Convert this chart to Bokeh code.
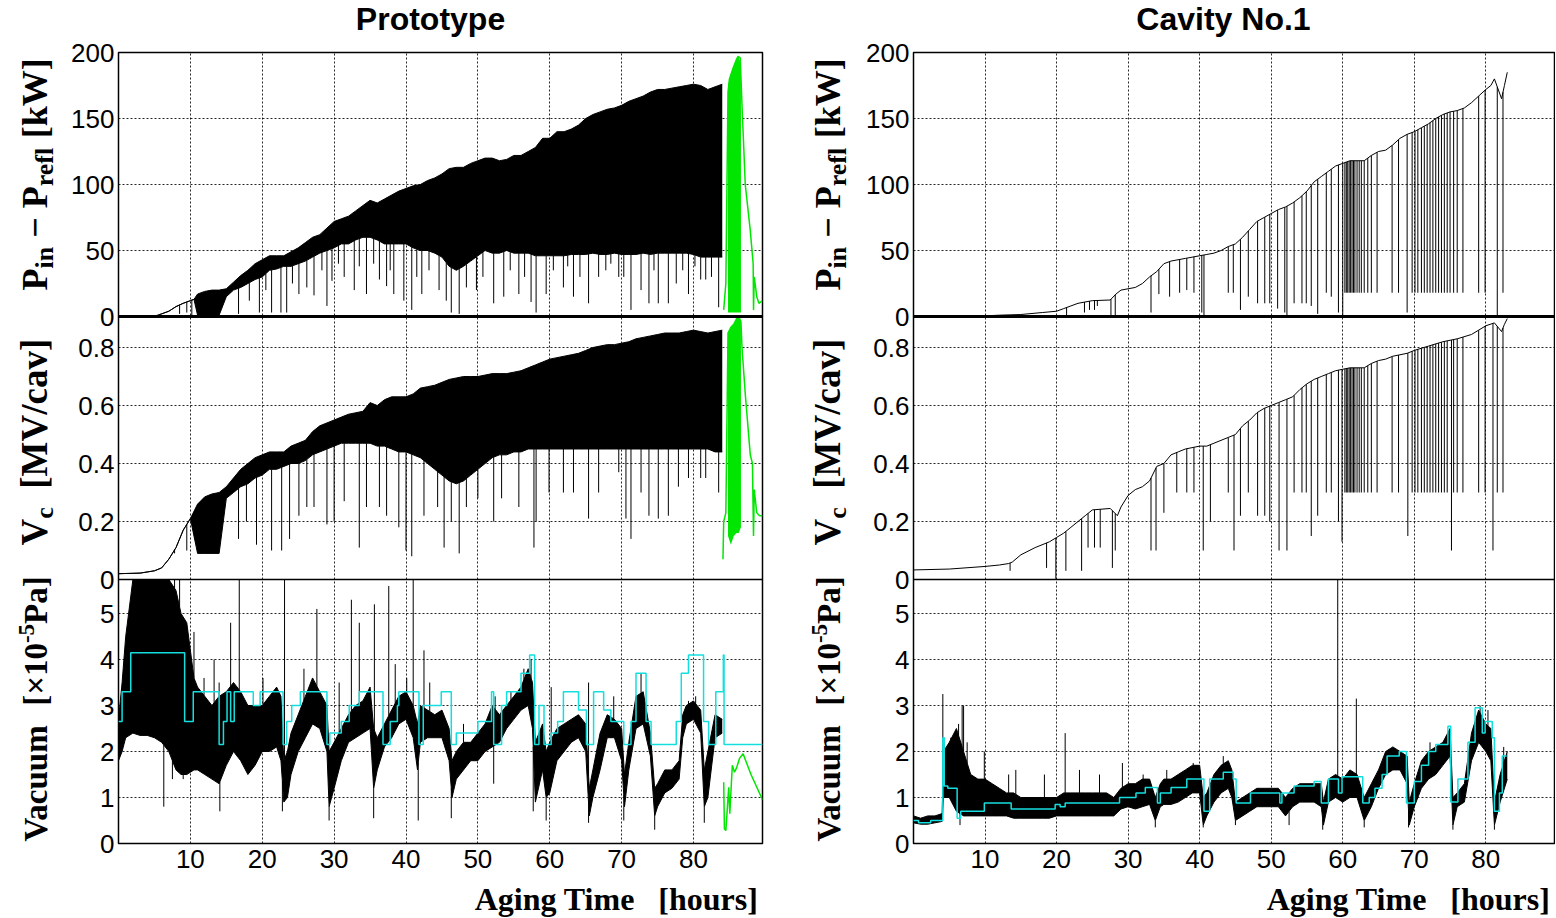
import math
import numpy as np
from bokeh.plotting import figure
from bokeh.models import Range1d, FixedTicker, Grid, Span, Label
from bokeh.layouts import row, column
from bokeh.embed import file_html
from bokeh.resources import INLINE

# ------------------------------------------------------------------ data
X_TICKS = [10, 20, 30, 40, 50, 60, 70, 80]
P_TICKS = [0, 50, 100, 150, 200]
P_TICK_LABELS = ["0", "50", "100", "150", "200"]
V_TICKS = [0, 0.2, 0.4, 0.6, 0.8]
V_TICK_LABELS = ["0", "0.2", "0.4", "0.6", "0.8"]
VAC_TICKS = [0, 1, 2, 3, 4, 5]
VAC_TICK_LABELS = ["0", "1", "2", "3", "4", "5"]

# ---- Prototype: Pin - Prefl [kW]  (dense band hi / lo, plus dips)
proto_p_t = [0, 5, 5.5, 7, 8, 9, 10, 10.5,
             11, 12, 13, 14, 15, 16, 17, 18, 19, 20, 21, 22, 23, 24, 25, 26, 27, 28, 29, 30,
             31, 32, 33, 34, 35, 36, 37, 38, 39, 40, 41, 42, 43, 44, 45, 46, 47, 48, 49, 50,
             51, 52, 53, 54, 55, 56, 57, 58, 59, 60, 61, 62, 63, 64, 65, 66, 67, 68, 69, 70,
             71, 72, 73, 74, 75, 76, 77, 78, 79, 80, 81, 82, 83, 84]
proto_p_hi = [0, 0.3, 1, 4, 7.5, 10, 12, 13,
              17, 19, 20, 20, 21, 26, 31, 35, 40, 43,
              46, 46, 46, 49, 52, 56, 60, 62, 67, 72,
              74, 76, 80, 84, 88, 86, 89, 92, 95, 97,
              99, 100, 103, 105, 108, 112, 113, 113, 116, 118,
              120, 120, 118, 119, 122, 122, 125, 128, 135, 135,
              140, 140, 142, 145, 150, 153, 155, 157, 158, 160,
              163, 165, 167, 170, 172, 172, 173, 174, 175, 176,
              175, 172, 174, 176]
proto_p_lo = [0, 0.3, 1, 4, 7.5, 10, 12, 13,
              1, 1, 1, 1, 15, 20, 22, 25, 28, 30,
              35, 36, 38, 38, 40, 42, 45, 48, 50, 52,
              55, 55, 58, 60, 60, 58, 55, 55, 55, 55,
              52, 50, 50, 48, 45, 38, 35, 38, 42, 46,
              50, 48, 48, 50, 48, 48, 48, 46, 46, 46,
              46, 46, 47, 47, 47, 48, 47, 47, 48, 47,
              47, 47, 48, 47, 48, 48, 48, 48, 48, 47,
              45, 45, 45, 45]
proto_p_dip_t = [8.5, 9.5, 10.2, 16.7, 18.2, 19.6, 20.5, 21.3, 22.6, 23.4, 24.2, 25.1, 26.2,
                 27.2, 28.3, 29.0, 29.7, 30.6, 31.4, 32.8, 33.5, 34.5, 35.5,
                 36.3, 37.3, 37.8, 38.3, 39.7, 40.8, 41.5, 42.2, 43.2, 44.6,
                 45.6, 46.3, 47.4, 48.4, 49.8, 50.7, 52.2, 53.6, 54.5, 55.7,
                 56.5, 57.4, 58.1, 59.5, 60.5, 61.9, 62.5, 63.3, 64.2, 65.4,
                 66.8, 67.8, 68.5, 69.6, 70.3, 71.3, 72.7, 73.8, 74.5, 75.1,
                 76.5, 77.6, 78.5, 79.3, 80.2, 81.0, 81.7, 82.5, 83.5]
proto_p_dip_v = [2, 3, 1, 2, 12, 3, 20, 3, 3, 3, 25, 17, 22,
                 16, 35, 8, 27, 40, 30, 20, 38, 17, 40,
                 28, 23, 35, 17, 12, 5, 30, 17, 35, 20,
                 12, 3, 2, 22, 20, 30, 10, 15, 35, 17,
                 30, 11, 3, 17, 35, 22, 38, 15, 30, 10,
                 30, 35, 40, 30, 30, 5, 20, 10, 35, 10,
                 10, 25, 35, 17, 38, 28, 28, 30, 7]

# ---- Prototype: Vc [MV/cav]
proto_v_t = [0, 3, 5, 6, 7, 8, 9, 10,
             11, 12, 13, 14, 15, 16, 17, 18, 19, 20, 21, 22, 23, 24, 25, 26, 27, 28, 29, 30,
             31, 32, 33, 34, 35, 36, 37, 38, 39, 40, 41, 42, 43, 44, 45, 46, 47, 48, 49, 50,
             51, 52, 53, 54, 55, 56, 57, 58, 59, 60, 61, 62, 63, 64, 65, 66, 67, 68, 69, 70,
             71, 72, 73, 74, 75, 76, 77, 78, 79, 80, 81, 82, 83, 84]
proto_v_hi = [0.02, 0.022, 0.03, 0.04, 0.07, 0.11, 0.17, 0.21,
              0.26, 0.285, 0.295, 0.30, 0.32, 0.35, 0.38, 0.40, 0.42, 0.43,
              0.44, 0.44, 0.44, 0.46, 0.47, 0.48, 0.51, 0.53, 0.54, 0.55,
              0.56, 0.57, 0.575, 0.58, 0.61, 0.60, 0.62, 0.63, 0.63, 0.63,
              0.64, 0.66, 0.665, 0.67, 0.68, 0.69, 0.695, 0.70, 0.70, 0.70,
              0.705, 0.71, 0.71, 0.71, 0.715, 0.72, 0.73, 0.74, 0.75, 0.76,
              0.765, 0.77, 0.775, 0.78, 0.79, 0.80, 0.805, 0.81, 0.81, 0.815,
              0.82, 0.83, 0.835, 0.84, 0.845, 0.85, 0.85, 0.85, 0.855, 0.86,
              0.855, 0.85, 0.855, 0.86]
proto_v_lo = [0.02, 0.022, 0.03, 0.04, 0.07, 0.11, 0.17, 0.21,
              0.09, 0.09, 0.09, 0.09, 0.28, 0.30, 0.32, 0.33, 0.35, 0.36,
              0.38, 0.38, 0.39, 0.40, 0.40, 0.41, 0.43, 0.44, 0.45, 0.46,
              0.47, 0.47, 0.47, 0.47, 0.47, 0.46, 0.46, 0.45, 0.44, 0.44,
              0.43, 0.42, 0.40, 0.38, 0.36, 0.34, 0.33, 0.34, 0.36, 0.38,
              0.40, 0.42, 0.43, 0.43, 0.44, 0.44, 0.45, 0.45, 0.45, 0.45,
              0.45, 0.45, 0.45, 0.45, 0.45, 0.45, 0.45, 0.45, 0.45, 0.45,
              0.45, 0.45, 0.45, 0.45, 0.45, 0.45, 0.45, 0.45, 0.45, 0.45,
              0.45, 0.45, 0.44, 0.44]
proto_v_dip_t = [7.8, 9.5, 16.7, 17.8, 19.2, 21.3, 22.7, 23.8, 25.1, 26.2,
                 27.2, 29.0, 30.0, 31.4, 33.5, 34.5, 36.3, 37.3, 39.0, 40.0,
                 40.8, 42.5, 44.4, 45.3, 46.3, 47.4, 48.4, 50.0, 52.2, 53.3,
                 55.7, 57.8, 58.1, 59.9, 61.9, 63.3, 65.4, 66.8, 69.6, 70.6,
                 71.3, 72.7, 73.8, 75.1, 76.5, 77.9, 79.3, 81.0, 81.7, 83.5]
proto_v_dip_v = [0.09, 0.10, 0.14, 0.20, 0.12, 0.10, 0.10, 0.14, 0.22, 0.25,
                 0.25, 0.19, 0.20, 0.27, 0.11, 0.25, 0.25, 0.22, 0.18, 0.10,
                 0.08, 0.22, 0.25, 0.11, 0.20, 0.09, 0.25, 0.28, 0.20, 0.28,
                 0.25, 0.11, 0.20, 0.30, 0.30, 0.30, 0.21, 0.30, 0.37, 0.21,
                 0.14, 0.30, 0.22, 0.21, 0.22, 0.32, 0.35, 0.35, 0.35, 0.30]

# ---- Prototype: vacuum band, spikes and cyan step
proto_vac_t = [0, 0.5, 1, 2, 3, 4, 5, 6, 7, 8,
               8.7, 9.5, 10.5, 11, 12, 13, 14, 15, 16, 17,
               18, 19, 20, 21, 22, 22.6, 23, 23.5, 24, 25,
               26, 27, 28, 29, 29.3, 30, 31, 32, 33, 34,
               35, 35.5, 36, 37, 38, 39, 40, 41, 41.6, 42,
               43, 44, 45, 46, 46.4, 47, 48, 49, 50, 51,
               52, 53, 54, 55, 56, 57, 57.6, 58, 59, 59.5,
               60, 61, 62, 63, 64, 65, 65.5, 66, 67, 68,
               69, 70, 70.4, 71, 72, 73, 74, 74.6, 75, 76,
               77, 78, 78.5, 79, 80, 81, 81.5, 82, 83, 84]
proto_vac_lo = [1.8, 2.0, 2.3, 2.4, 2.35, 2.35, 2.3, 2.2, 2.0, 1.6,
                1.5, 1.5, 1.6, 1.6, 1.5, 1.4, 1.3, 1.7, 2.0, 1.8,
                1.5, 1.7, 2.0, 2.0, 2.1, 1.8, 0.9, 1.0, 1.5, 2.0,
                2.3, 2.6, 2.5, 2.0, 0.8, 1.2, 1.8, 2.2, 2.3, 2.4,
                2.5, 1.2, 1.6, 2.1, 2.3, 2.6, 2.7, 2.3, 1.6, 2.2,
                2.3, 2.3, 2.3, 1.8, 1.0, 1.4, 1.6, 1.8, 1.8, 2.0,
                2.1, 2.2, 2.5, 2.7, 2.9, 3.0, 2.5, 0.9, 1.6, 1.0,
                1.1, 1.8, 2.0, 2.2, 2.3, 2.0, 0.6, 1.0, 1.6, 2.3,
                2.3, 1.8, 0.8, 1.6, 2.5, 2.6, 1.9, 0.6, 0.8, 1.1,
                1.2, 1.4, 2.3, 2.6, 2.7, 2.4, 0.8, 1.0, 2.3, 2.4]
proto_vac_hi = [2.7, 3.5, 4.5, 5.74, 5.74, 5.74, 5.74, 5.74, 5.74, 5.5,
                5.0, 4.8, 3.6, 3.4, 3.2, 3.0, 3.2, 3.3, 3.5, 3.3,
                3.0, 3.0, 3.0, 3.2, 3.4, 3.2, 1.8, 2.0, 2.4, 2.8,
                3.2, 3.6, 3.3, 3.0, 2.0, 2.2, 2.5, 2.8, 3.0, 3.1,
                3.4, 2.5, 2.3, 2.6, 2.9, 3.2, 3.3, 3.0, 2.6, 3.0,
                2.9, 2.8, 2.9, 2.5, 1.8, 2.0, 2.2, 2.2, 2.4, 2.6,
                3.0, 2.8, 3.0, 3.2, 3.4, 3.8, 3.5, 2.2, 2.6, 2.0,
                2.2, 2.5, 2.6, 2.7, 2.8, 2.6, 1.2, 1.6, 2.4, 2.8,
                2.7, 2.5, 1.5, 2.2, 3.2, 3.3, 2.4, 1.2, 1.3, 1.6,
                1.6, 1.8, 2.8, 3.0, 3.1, 2.9, 1.6, 2.0, 2.8, 2.7]
proto_vac_up_t = [7.8, 8.5, 10.5, 11.9, 13.3, 14.0, 15.6, 16.8, 20.1, 23.1,
                  25.8, 27.6, 30.7, 32.4, 33.5, 35.6, 37.6, 38.5, 40.1, 41.0,
                  42.5, 43.3, 48.0, 52.4, 54.6, 56.4, 57.4, 60.2, 65.4, 68.9,
                  72.7, 79.3, 80.3]
proto_vac_up_v = [5.74, 5.74, 4.6, 3.6, 4.0, 3.5, 4.8, 5.74, 3.6, 5.74,
                  3.8, 5.1, 3.5, 5.3, 4.8, 5.2, 5.6, 3.9, 3.6, 5.74,
                  4.2, 3.5, 2.6, 3.2, 3.3, 3.8, 4.0, 3.4, 3.5, 3.2,
                  3.7, 3.1, 3.2]
proto_vac_dn_t = [6.3, 7.5, 9.0, 14.1, 22.8, 29.3, 35.5, 41.7, 46.3, 52.2,
                  57.7, 59.5, 65.4, 70.3, 74.6, 81.5]
proto_vac_dn_v = [0.8, 1.4, 1.4, 0.7, 0.7, 0.5, 0.55, 0.5, 0.55, 1.3,
                  0.7, 0.5, 0.45, 0.5, 0.3, 0.45]
proto_cyan_t = [0, 0.5, 1.7, 9.2, 10.4, 14.0, 14.6, 15.1, 15.6, 16.1,
                18.75, 19.7, 22.9, 23.4, 24.1, 25.3, 29.0, 29.4, 31.0, 32.1,
                33.5, 36.8, 37.8, 38.8, 39.0, 41.8, 42.4, 44.9, 46.3, 47.0,
                50.0, 51.9, 52.2, 53.3, 54.0, 56.0, 57.2, 57.9, 58.5, 59.2,
                60.2, 61.1, 61.9, 64.0, 65.1, 66.1, 67.5, 68.5, 70.3, 71.3,
                72.0, 73.4, 74.1, 77.6, 78.3, 79.3, 81.4, 82.1, 83.1, 84.15,
                84.25, 89.6]
proto_cyan_v = [2.65, 3.3, 4.15, 2.65, 3.3, 2.15, 2.65, 3.3, 2.65, 3.3,
                3.0, 3.3, 2.15, 2.65, 3.0, 3.3, 2.15, 2.4, 2.65, 3.0,
                3.3, 2.15, 2.65, 3.0, 3.3, 2.15, 3.0, 3.3, 2.15, 2.4,
                2.65, 3.3, 2.15, 3.0, 3.3, 3.7, 4.1, 2.15, 3.0, 2.15,
                2.4, 2.65, 3.3, 2.9, 2.15, 3.3, 2.9, 2.65, 2.15, 2.65,
                3.7, 2.65, 2.15, 2.65, 3.7, 4.1, 2.65, 2.15, 3.3, 4.1,
                2.15, 2.15]

# ---- Prototype: green (last run)
green_p_t = [84.2, 84.5, 84.8, 85.0, 85.5, 86.0, 86.2, 86.5, 86.75, 87.2,
             87.9, 88.3, 88.35, 88.45, 88.8, 89.1, 89.6]
green_p_v = [5, 25, 170, 180, 188, 195, 197, 196, 160, 100,
             65, 40, 5, 30, 15, 10, 12]
green_band_t = [84.8, 85.2, 85.6, 86.0, 86.3, 86.6]
green_p_band_lo = [3, 3, 3, 3, 3, 3]
green_p_band_hi = [175, 183, 190, 195, 197, 190]
green_v_t = [84.1, 84.2, 84.5, 84.8, 85.2, 85.6, 86.0, 86.3, 86.6, 86.75,
             87.2, 87.9, 88.2, 88.35, 88.45, 88.8, 89.2, 89.6]
green_v_v = [0.07, 0.2, 0.23, 0.85, 0.87, 0.88, 0.9, 0.905, 0.89, 0.8,
             0.64, 0.43, 0.40, 0.15, 0.31, 0.23, 0.22, 0.22]
green_v_band_lo = [0.15, 0.12, 0.15, 0.16, 0.16, 0.18]
green_v_band_hi = [0.85, 0.87, 0.88, 0.9, 0.905, 0.89]
green_vac_t = [84.2, 84.3, 84.5, 84.9, 85.05, 85.4, 85.7, 86.0, 86.4, 86.9, 88.0, 89.6]
green_vac_v = [1.33, 0.32, 0.28, 1.22, 0.65, 1.7, 1.55, 1.65, 1.85, 1.95, 1.5, 0.95]

# ---- Cavity No.1: Pin - Prefl
cav_p_env_t = [0, 5, 10, 12, 15, 18, 20, 21, 22, 23,
               25, 27.5, 28.3, 29, 30, 31, 32, 33, 34, 35,
               36, 38, 40, 41, 42, 43, 44, 45, 46, 47,
               48, 49, 50, 51, 52, 53, 54, 55, 56, 57,
               58, 59, 60, 61, 62, 63, 64, 65, 66, 67,
               68, 69, 70, 71, 72, 73, 74, 75, 76, 77,
               78, 79, 80, 80.7, 81.2, 82.2, 82.6, 83.0]
cav_p_env_v = [0.3, 0.3, 0.5, 1, 1.5, 3, 4, 6, 8, 10,
               12, 12.5, 17, 20, 21, 22, 25, 30, 34, 40,
               42, 44, 46, 47, 48, 50, 53, 55, 60, 66,
               72, 75, 78, 81, 83, 86, 90, 95, 102, 106,
               110, 114, 116, 118, 118, 118, 122, 125, 126, 130,
               135, 138, 140, 143, 146, 150, 153, 155, 156, 158,
               162, 167, 172, 175, 180, 165, 175, 185]
cav_p_dip_t = [21.4, 23.9, 24.6, 25.3, 25.7, 27.6, 28.2,
               33.2, 34.3, 35.8, 37.2, 38.2, 39.2, 40.3, 40.6,
               44.0, 44.7, 45.7, 46.8, 48.1, 49.1, 49.8, 50.9, 51.9, 52.2,
               53.2, 54.3, 54.9, 55.6, 56.5, 57.7, 58.4, 59.4, 60.0,
               60.3, 60.5, 60.7, 60.9, 61.1, 61.3, 61.5, 61.7, 62.0, 62.3, 62.6, 63.0, 63.5, 64.0,
               64.8, 66.9, 67.8, 69.0,
               69.7, 70.1, 70.5, 71.0, 71.4, 71.8, 72.2, 72.6, 73.0, 73.4, 73.8, 74.2, 74.6,
               75.0, 75.5, 76.0,
               76.8, 79.0, 79.9, 81.6, 82.4]
cav_p_dip_v = [0, 3, 5, 5, 8, 1, 0,
               3, 17, 15, 18, 20, 18, 3, 1,
               18, 18, 5, 15, 10, 10, 10, 6, 3, 1,
               10, 10, 10, 8, 2, 18, 15, 3, 0,
               18, 18, 18, 18, 18, 18, 18, 18, 18, 18, 18, 18, 18, 18,
               18, 18, 18, 3,
               18, 18, 18, 18, 18, 18, 18, 18, 18, 18, 18, 18, 18,
               18, 18, 18,
               18, 18, 18, 0, 18]

# ---- Cavity No.1: Vc
cav_v_env_t = [0, 5, 10, 12, 13.3, 13.8, 15, 17, 19, 20,
               21, 22, 23, 24, 25, 27.5, 28.5, 29, 30, 31,
               32, 33, 34, 35, 36, 37, 38, 40, 41, 42,
               44, 45, 46, 47, 48, 49, 50, 51, 52, 53,
               54, 55, 56, 57, 58, 59, 60, 61, 63, 64,
               65, 66, 67, 68, 69, 70, 72, 74, 76, 78,
               79, 80, 81.2, 82.2, 82.6, 83.0]
cav_v_env_v = [0.033, 0.036, 0.045, 0.05, 0.055, 0.06, 0.085, 0.11, 0.13, 0.145,
               0.16, 0.18, 0.20, 0.22, 0.24, 0.245, 0.22, 0.25, 0.29, 0.31,
               0.32, 0.34, 0.39, 0.40, 0.43, 0.44, 0.45, 0.46, 0.46, 0.47,
               0.49, 0.50, 0.53, 0.55, 0.575, 0.59, 0.60, 0.61, 0.62, 0.63,
               0.655, 0.675, 0.69, 0.70, 0.71, 0.72, 0.725, 0.73, 0.73, 0.745,
               0.755, 0.76, 0.77, 0.775, 0.78, 0.79, 0.805, 0.82, 0.83, 0.845,
               0.86, 0.875, 0.885, 0.855, 0.88, 0.90]
cav_v_dip_t = [13.5, 18.6, 19.9, 21.3, 23.5, 24.4, 25.3, 26.1, 27.8, 28.2,
               33.2, 33.9, 35.0, 36.8, 38.2, 39.2, 40.5, 41.5, 44.0, 44.8,
               45.7, 46.8, 48.1, 49.1, 49.8, 51.1, 52.2, 53.2, 54.3, 54.9,
               55.6, 56.5, 57.7, 58.4, 59.4, 59.9,
               60.3, 60.5, 60.7, 60.9, 61.1, 61.3, 61.5, 61.7, 62.0, 62.3, 62.6, 63.0, 63.5, 64.0,
               64.8, 66.9, 67.8, 69.1,
               69.7, 70.1, 70.5, 71.0, 71.4, 71.8, 72.2, 72.6, 73.0, 73.4, 73.8, 74.2, 74.6,
               75.2, 75.5, 76.0, 76.8, 79.0, 79.9, 81.0, 81.6, 82.4]
cav_v_dip_v = [0.03, 0.04, 0.0, 0.03, 0.03, 0.11, 0.11, 0.11, 0.04, 0.10,
               0.10, 0.10, 0.23, 0.30, 0.30, 0.30, 0.10, 0.20, 0.30, 0.10,
               0.22, 0.30, 0.22, 0.22, 0.20, 0.10, 0.10, 0.30, 0.30, 0.30,
               0.15, 0.22, 0.30, 0.30, 0.20, 0.13,
               0.30, 0.30, 0.30, 0.30, 0.30, 0.30, 0.30, 0.30, 0.30, 0.30, 0.30, 0.30, 0.30, 0.30,
               0.30, 0.30, 0.30, 0.15,
               0.30, 0.30, 0.30, 0.30, 0.30, 0.30, 0.30, 0.30, 0.30, 0.30, 0.30, 0.30, 0.30,
               0.10, 0.30, 0.30, 0.30, 0.30, 0.30, 0.10, 0.30, 0.30]

# ---- Cavity No.1: vacuum
cav_vac_t = [0, 1, 2, 3, 4, 4.2, 5, 6, 7, 8,
             9, 10, 11, 12, 13, 14, 15, 16, 17, 18,
             19, 20, 21, 22, 23, 24, 25, 26, 27, 28,
             29, 30, 31, 32, 33, 33.8, 34.5, 35, 36, 37,
             38, 39, 40, 40.5, 41, 42, 43, 44, 44.5, 45,
             46, 47, 48, 49, 50, 51, 52, 53, 54, 55,
             56, 57, 57.3, 58, 59, 60, 61, 62, 63, 64,
             65, 66, 67, 68, 69, 69.3, 70, 71, 72, 73,
             74, 75, 75.4, 76, 77, 78, 79, 80, 80.7, 81.2,
             82, 83]
cav_vac_lo = [0.45, 0.42, 0.42, 0.45, 0.48, 1.0, 1.0, 0.7, 0.6, 0.6,
              0.6, 0.6, 0.6, 0.6, 0.6, 0.55, 0.55, 0.55, 0.55, 0.55,
              0.55, 0.6, 0.6, 0.6, 0.6, 0.6, 0.6, 0.6, 0.6, 0.6,
              0.75, 0.8, 0.75, 0.8, 0.85, 0.5, 0.8, 0.85, 0.85, 0.9,
              1.0, 1.1, 1.1, 0.4, 0.6, 0.9, 1.1, 1.2, 1.0, 0.5,
              0.6, 0.7, 0.8, 0.8, 0.8, 0.8, 0.6, 0.8, 0.9, 0.9,
              0.9, 0.8, 0.4, 0.9, 1.0, 0.9, 1.0, 1.0, 0.5, 0.8,
              1.2, 1.5, 1.6, 1.6, 1.3, 0.4, 0.8, 1.2, 1.4, 1.5,
              1.7, 1.9, 0.4, 0.8, 0.9, 1.8, 2.2, 2.0, 1.8, 0.4,
              0.9, 1.4]
cav_vac_hi = [0.6, 0.55, 0.6, 0.6, 0.65, 2.0, 2.2, 2.5, 2.0, 1.5,
              1.4, 1.4, 1.3, 1.2, 1.1, 1.1, 1.0, 1.0, 1.0, 1.0,
              1.0, 1.0, 1.1, 1.1, 1.1, 1.1, 1.1, 1.1, 1.1, 1.0,
              1.2, 1.3, 1.3, 1.4, 1.4, 1.0, 1.3, 1.4, 1.4, 1.5,
              1.6, 1.7, 1.7, 1.0, 1.1, 1.5, 1.7, 1.8, 1.6, 0.9,
              1.0, 1.1, 1.2, 1.2, 1.2, 1.2, 1.0, 1.2, 1.3, 1.3,
              1.3, 1.3, 0.9, 1.4, 1.5, 1.4, 1.6, 1.5, 1.0, 1.3,
              1.6, 2.0, 2.1, 2.0, 1.9, 0.9, 1.3, 1.8, 2.0, 2.1,
              2.2, 2.5, 1.0, 1.1, 1.3, 2.4, 2.9, 2.6, 2.5, 0.9,
              1.5, 2.0]
cav_vac_up_t = [4.1, 5.2, 6.3, 6.8, 7.0, 7.5, 9.9, 13.3, 14.3, 18.3,
                21.2, 23.2, 26.0, 29.2, 32.1, 35.4, 39.1, 43.3, 59.3, 61.9,
                66.5, 72.2, 79.2, 80.3, 82.5]
cav_vac_up_v = [3.25, 2.3, 2.6, 3.0, 3.0, 2.2, 2.0, 1.5, 1.6, 1.5,
                2.4, 1.6, 1.5, 1.75, 1.5, 1.6, 1.75, 1.9, 5.74, 3.15,
                2.0, 2.2, 3.0, 2.9, 2.1]
cav_vac_dn_t = [6.5, 33.8, 40.5, 45.0, 52.5, 57.2, 63.0, 69.2, 75.4, 81.2]
cav_vac_dn_v = [0.4, 0.35, 0.35, 0.4, 0.4, 0.3, 0.35, 0.35, 0.3, 0.3]
cav_cyan_t = [0, 0.7, 2.4, 4.1, 4.3, 4.8, 6.1, 6.6, 9.9, 13.65,
              19.8, 20.5, 21.2, 28.8, 31.1, 32.4, 34.1, 34.5, 36.0, 38.2,
              40.6, 41.4, 43.3, 44.7, 45.1, 47.1, 51.2, 51.5, 53.2, 56.0,
              57.0, 58.0, 59.4, 59.9, 62.8, 63.7, 64.5, 65.5, 66.2, 67.9,
              68.9, 70.0, 71.0, 72.0, 73.0, 74.7, 75.1, 76.1, 77.5, 78.5,
              79.5, 79.9, 80.9, 81.2, 81.9, 82.3, 82.9]
cav_cyan_v = [0.5, 0.45, 0.5, 2.3, 1.25, 1.2, 0.55, 0.7, 0.88, 0.75,
              0.85, 0.8, 0.88, 1.0, 1.1, 1.22, 0.88, 1.1, 1.22, 1.4,
              0.7, 1.4, 1.55, 1.4, 0.88, 1.1, 0.88, 1.1, 1.25, 1.35,
              0.88, 1.4, 1.1, 1.45, 0.88, 1.0, 1.2, 1.5, 1.9, 2.0,
              0.88, 1.35, 1.7, 2.0, 2.15, 2.55, 0.9, 1.4, 2.2, 2.95,
              2.4, 2.65, 2.3, 0.7, 1.1, 1.9, 1.9]

# ------------------------------------------------------------------ layout / style
FH = 791                      # frame height (three stacked panels)
X_MAX = 89.6
P_MAX, V_MAX, VAC_MAX = 200.0, 0.907, 5.74
F_TOP = 527.0 / FH            # bottom edge of the power panel (fraction of frame)
F_MID = 264.0 / FH            # bottom edge of the voltage panel
TITLE_H, MAIN_TOP, MAIN_BOT, XT_H = 37, 15, 38, 36
YL_W_LEFT, YL_W_RIGHT, MAIN_LEFT = 64, 87, 54
TOTAL_W = YL_W_LEFT + MAIN_LEFT + 644 + 10 + YL_W_RIGHT + MAIN_LEFT + 641 + 1
FRAME_TOP = TITLE_H + MAIN_TOP                   # page y of the frames' top edge (52)
FRAME_BOT = FRAME_TOP + FH                       # page y of the frames' bottom edge (843)
XT_TOP = FRAME_BOT + MAIN_BOT                    # page y of the x-title strip
MID = 0.35                    # label anchor sits at the text's middle: offset from baseline (em)
BLACK = "#000000"
CYAN = "#14dede"
GREEN = "#00e600"
SERIF = "Liberation Serif"
SANS = "Liberation Sans"

TB = {' ': 250, 'P': 611, 'i': 278, 'n': 556, '−': 570, 'r': 444, 'e': 444, 'f': 333,
      'l': 278, '[': 333, 'k': 556, 'W': 1000, ']': 333, 'V': 722, 'c': 444, 'M': 944,
      '/': 278, 'a': 500, 'v': 500, 'u': 556, 'm': 833, '×': 570, '1': 500, '0': 500,
      '-': 333, '5': 500}


def text_width(s, size):
    return sum(TB.get(ch, 500) for ch in s) * size / 1000.0


def band_range(lo, hi, f0, f1):
    span = (hi - lo) / (f1 - f0)
    return Range1d(lo - f0 * span, hi + (1.0 - f1) * span)


def text_fig(w, h, top=0, bottom=0):
    f = figure(frame_width=w, frame_height=h, x_range=Range1d(0, w), y_range=Range1d(0, h),
               min_border=0, min_border_left=0, min_border_right=0,
               min_border_top=top, min_border_bottom=bottom,
               x_axis_type=None, y_axis_type=None, title=None,
               toolbar_location=None, tools="", output_backend="svg")
    f.outline_line_color = None
    f.background_fill_color = "white"
    f.border_fill_color = "white"
    return f


def add_text(f, x, y, txt, size, font, align="left", angle=0.0):
    f.add_layout(Label(x=x, y=y, text=txt, angle=angle, text_align=align,
                       text_baseline="middle", text_font=font, text_font_style="bold",
                       text_font_size=f"{size}px", text_color="black"))


def ylabel_fig(w, base_x):
    # frame spans exactly the three stacked panels (page y 52..843)
    f = text_fig(w, FH, top=MAIN_TOP, bottom=MAIN_BOT)

    def vlabel(pieces, y0):
        y = y0
        for txt, size, dx in pieces:
            if txt.strip():
                # rotated text: "up" points to -x, so the middle lies left of the baseline
                add_text(f, base_x + dx - MID * size, y, txt, size, SERIF, angle=math.pi / 2)
            y += text_width(txt, size)

    vlabel([("P", 36, 0), ("in", 26, 6), (" ", 36, 0), ("−", 36, 0), (" ", 36, 0),
            ("P", 36, 0), ("refl", 26, 6), (" ", 36, 0), ("[kW]", 36, 0)], FRAME_BOT - 290)
    vlabel([("V", 37, 0), ("c", 26, 6), (" ", 37, 0), (" ", 37, 0), ("[MV/cav]", 37, 0)],
           FRAME_BOT - 545)
    vlabel([("Vacuum", 33, 0), (" ", 33, 0), (" ", 33, 0), ("[×10", 33, 0), ("-5", 23, -13),
            ("Pa]", 33, 0)], FRAME_BOT - 841)
    return f


def spikes(p, t, v, base_t, base_v, rng):
    tops = np.interp(t, base_t, base_v)
    p.segment(x0=t, y0=v, x1=t, y1=list(tops), line_color=BLACK, line_width=1, y_range_name=rng)


def build(fw, br, proto):
    p = figure(frame_width=fw, frame_height=FH, min_border_left=MAIN_LEFT, min_border_right=br,
               min_border_top=MAIN_TOP, min_border_bottom=MAIN_BOT, title=None,
               x_range=Range1d(0, X_MAX), y_range=Range1d(0, 1),
               output_backend="svg", toolbar_location=None, tools="")
    p.extra_y_ranges = {"pw": band_range(0, P_MAX, F_TOP, 1.0),
                        "vc": band_range(0, V_MAX, F_MID, F_TOP),
                        "vac": band_range(0, VAC_MAX, 0.0, F_MID)}
    p.background_fill_color = "white"
    p.border_fill_color = "white"
    p.outline_line_color = "black"
    p.outline_line_width = 1.5

    # grids
    p.ygrid.grid_line_color = None
    p.xgrid.ticker = FixedTicker(ticks=X_TICKS)
    p.xgrid.grid_line_color = "black"
    p.xgrid.grid_line_dash = "2 2"
    p.xgrid.grid_line_alpha = 0.85
    for name, ticks in (("pw", P_TICKS[1:-1]), ("vc", V_TICKS[1:]), ("vac", VAC_TICKS[1:])):
        p.add_layout(Grid(dimension=1, y_range_name=name, ticker=FixedTicker(ticks=ticks),
                          grid_line_color="black", grid_line_dash="2 2", grid_line_alpha=0.85))

    # one left axis carrying the three panels' tick labels
    ticks, over = [], {}
    for v, lab in zip(P_TICKS, P_TICK_LABELS):
        f = F_TOP + v / P_MAX * (1.0 - F_TOP); ticks.append(f); over[f] = lab
    for v, lab in zip(V_TICKS, V_TICK_LABELS):
        f = F_MID + v / V_MAX * (F_TOP - F_MID); ticks.append(f); over[f] = lab
    for v, lab in zip(VAC_TICKS, VAC_TICK_LABELS):
        f = v / VAC_MAX * F_MID; ticks.append(f); over[f] = lab
    ya = p.yaxis[0]
    ya.ticker = FixedTicker(ticks=ticks)
    ya.major_label_overrides = over
    xa = p.xaxis[0]
    xa.ticker = FixedTicker(ticks=X_TICKS)
    for ax, st in ((ya, 4), (xa, 6)):
        ax.major_label_text_font = SANS
        ax.major_label_text_font_size = "26px"
        ax.major_label_text_color = "black"
        ax.major_tick_line_color = None
        ax.minor_tick_line_color = None
        ax.major_tick_out = 0
        ax.major_tick_in = 0
        ax.minor_tick_out = 0
        ax.axis_line_color = None
        ax.major_label_standoff = st

    if proto:
        # power
        p.varea(x=proto_p_t, y1=proto_p_lo, y2=proto_p_hi, fill_color=BLACK, y_range_name="pw")
        p.line(proto_p_t, proto_p_hi, line_color=BLACK, line_width=1, y_range_name="pw")
        p.line(proto_p_t, proto_p_lo, line_color=BLACK, line_width=1, y_range_name="pw")
        spikes(p, proto_p_dip_t, proto_p_dip_v, proto_p_t, proto_p_lo, "pw")
        p.varea(x=green_band_t, y1=green_p_band_lo, y2=green_p_band_hi, fill_color=GREEN, y_range_name="pw")
        p.line(green_p_t, green_p_v, line_color=GREEN, line_width=1.5, y_range_name="pw")
        # voltage
        p.varea(x=proto_v_t, y1=proto_v_lo, y2=proto_v_hi, fill_color=BLACK, y_range_name="vc")
        p.line(proto_v_t, proto_v_hi, line_color=BLACK, line_width=1, y_range_name="vc")
        p.line(proto_v_t, proto_v_lo, line_color=BLACK, line_width=1, y_range_name="vc")
        spikes(p, proto_v_dip_t, proto_v_dip_v, proto_v_t, proto_v_lo, "vc")
        p.varea(x=green_band_t, y1=green_v_band_lo, y2=green_v_band_hi, fill_color=GREEN, y_range_name="vc")
        p.line(green_v_t, green_v_v, line_color=GREEN, line_width=1.5, y_range_name="vc")
        vt, vlo, vhi = proto_vac_t, proto_vac_lo, proto_vac_hi
        ut, uv, dt_, dv = proto_vac_up_t, proto_vac_up_v, proto_vac_dn_t, proto_vac_dn_v
        ct, cv = proto_cyan_t, proto_cyan_v
    else:
        p.line(cav_p_env_t, cav_p_env_v, line_color=BLACK, line_width=1, y_range_name="pw")
        spikes(p, cav_p_dip_t, cav_p_dip_v, cav_p_env_t, cav_p_env_v, "pw")
        p.line(cav_v_env_t, cav_v_env_v, line_color=BLACK, line_width=1, y_range_name="vc")
        spikes(p, cav_v_dip_t, cav_v_dip_v, cav_v_env_t, cav_v_env_v, "vc")
        vt, vlo, vhi = cav_vac_t, cav_vac_lo, cav_vac_hi
        ut, uv, dt_, dv = cav_vac_up_t, cav_vac_up_v, cav_vac_dn_t, cav_vac_dn_v
        ct, cv = cav_cyan_t, cav_cyan_v

    # vacuum
    p.varea(x=vt, y1=vlo, y2=vhi, fill_color=BLACK, y_range_name="vac")
    p.line(vt, vhi, line_color=BLACK, line_width=1, y_range_name="vac")
    p.line(vt, vlo, line_color=BLACK, line_width=1, y_range_name="vac")
    spikes(p, ut, uv, vt, vhi, "vac")
    spikes(p, dt_, dv, vt, vlo, "vac")
    p.step(ct, cv, mode="after", line_color=CYAN, line_width=1.5, y_range_name="vac")
    if proto:
        p.line(green_vac_t, green_vac_v, line_color=GREEN, line_width=1.5, y_range_name="vac")

    # panel separators
    p.add_layout(Span(location=0, dimension="width", y_range_name="pw", line_color="black", line_width=3))
    p.add_layout(Span(location=0, dimension="width", y_range_name="vc", line_color="black", line_width=1.5))
    return p


# titles row (full width), plot row, x-axis-title row (full width)
title_fig = text_fig(TOTAL_W, TITLE_H)
add_text(title_fig, 430, TITLE_H / 2, "Prototype", 32, SANS, align="center")
add_text(title_fig, 1223, TITLE_H / 2, "Cavity No.1", 32, SANS, align="center")

xt_fig = text_fig(TOTAL_W, XT_H)
XT_BASE = 910 - XT_TOP        # baseline inside the strip, measured from its top
XT_LABEL = "Aging Time\u00a0\u00a0\u00a0[hours]"
add_text(xt_fig, 758, XT_H - XT_BASE + MID * 32, XT_LABEL, 32, SERIF, align="right")
add_text(xt_fig, 1550, XT_H - XT_BASE + MID * 32, XT_LABEL, 32, SERIF, align="right")

ylab_left = ylabel_fig(YL_W_LEFT, 47)
main_left = build(644, 10, True)
ylab_right = ylabel_fig(YL_W_RIGHT, 840 - (YL_W_LEFT + MAIN_LEFT + 644 + 10))
main_right = build(641, 1, False)

layout = column(title_fig, row(ylab_left, main_left, ylab_right, main_right), xt_fig)

open("out.html", "w").write(file_html(layout, INLINE))
